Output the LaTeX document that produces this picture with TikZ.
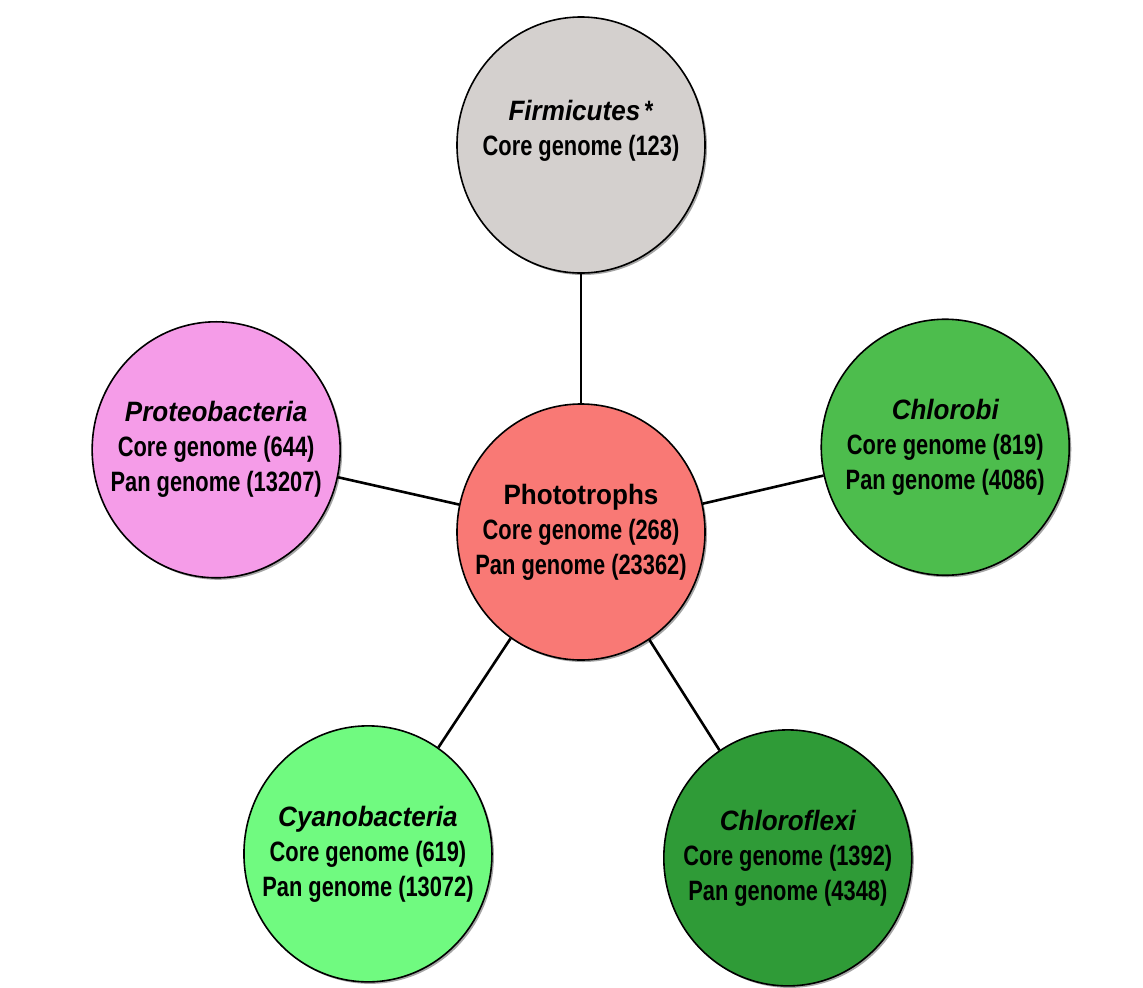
\documentclass[tikz,border=0pt]{standalone}
\usepackage{fontspec}
\setmainfont{Liberation Sans}[FakeStretch=0.78]
\newfontfamily\taxfont{Liberation Sans}[FakeStretch=0.93]
\usepackage{tikz}
\usetikzlibrary{positioning,calc,shapes.geometric,shadows}
\definecolor{phototroph}{RGB}{249,121,117}
\definecolor{firmicutes}{RGB}{212,208,206}
\definecolor{proteo}{RGB}{245,156,232}
\definecolor{chlorobi}{RGB}{77,189,77}
\definecolor{cyano}{RGB}{112,250,128}
\definecolor{chloroflexi}{RGB}{47,155,55}
\newcommand{\taxon}[1]{{\taxfont\itshape #1}}

\begin{document}
\begin{tikzpicture}[x=0.5pt,y=0.5pt,every node/.style={group},
				group/.style={ellipse,draw,line width=0.8pt,minimum width=124pt,minimum height=128pt,inner sep=0pt,inner xsep=-20pt,
					align=center,font=\fontsize{14}{17.5}\selectfont\bfseries,
					drop shadow={shadow xshift=1pt,shadow yshift=-1pt,fill=black!70,opacity=0.5}},
				link/.style={line width=1.3pt}]
				\useasboundingbox (-581,-455) rectangle (562,532);
				\node (PHOTO) [fill=phototroph]                                  {{\taxfont Phototrophs}\\Core genome (268)\\Pan genome (23362)};
				\node (FIRM)  [fill=firmicutes]  at ([shift={(90:387)}]PHOTO)    {\taxon{Firmicutes}\,*\\Core genome (123)\\\mbox{}};
				\node (PROT)  [fill=proteo]      at ([shift={(167.3:374)}]PHOTO) {\taxon{Proteobacteria}\\Core genome (644)\\Pan genome (13207)};
				\node (CHLB)  [fill=chlorobi]    at ([shift={(13.1:374)}]PHOTO)  {\taxon{Chlorobi}\\Core genome (819)\\Pan genome (4086)};
				\node (CYAN)  [fill=cyano]       at ([shift={(236.5:386)}]PHOTO) {\taxon{Cyanobacteria}\\Core genome (619)\\Pan genome (13072)};
				\node (CHLF)  [fill=chloroflexi] at ([shift={(302.4:386)}]PHOTO) {\taxon{Chloroflexi}\\Core genome (1392)\\Pan genome (4348)};
				
				\draw[link] (PHOTO) -- (FIRM);
				\draw[link] (PHOTO) -- (PROT);
				\draw[link] (PHOTO) -- (CHLB);
				\draw[link] (PHOTO) -- (CYAN);
				\draw[link] (PHOTO) -- (CHLF);
			\end{tikzpicture}
\end{document}
